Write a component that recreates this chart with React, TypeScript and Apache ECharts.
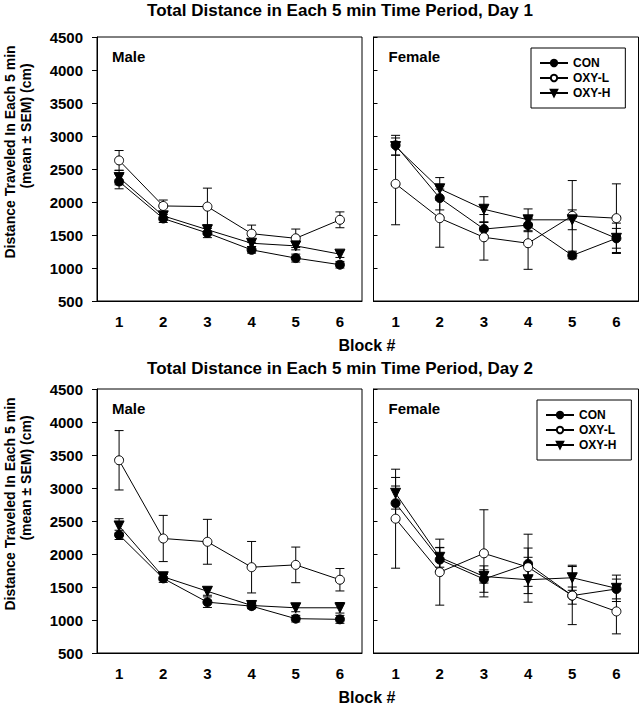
import React, { useEffect, useRef } from "react";
import * as echarts from "echarts";

const blocks = ["1", "2", "3", "4", "5", "6"];
const groups = ["CON", "OXY-L", "OXY-H"];

// Day 1, Male
const d1MaleCON = [2310, 1750, 1530, 1275, 1150, 1050];
const d1MaleCONErr = [110, 60, 70, 50, 60, 50];
const d1MaleOXYL = [2630, 1940, 1930, 1520, 1450, 1730];
const d1MaleOXYLErr = [150, 90, 280, 130, 140, 120];
const d1MaleOXYH = [2370, 1790, 1580, 1375, 1335, 1210];
const d1MaleOXYHErr = [110, 60, 70, 50, 60, 50];

// Day 1, Female
const d1FemaleCON = [2860, 2060, 1590, 1650, 1190, 1450];
const d1FemaleCONErr = [150, 180, 100, 100, 50, 150];
const d1FemaleOXYL = [2275, 1755, 1465, 1375, 1790, 1755];
const d1FemaleOXYLErr = [620, 440, 345, 395, 535, 520];
const d1FemaleOXYH = [2840, 2200, 1890, 1730, 1730, 1450];
const d1FemaleOXYHErr = [130, 170, 190, 165, 150, 230];

// Day 2, Male
const d2MaleCON = [2290, 1630, 1270, 1210, 1020, 1010];
const d2MaleCONErr = [70, 60, 80, 40, 50, 60];
const d2MaleOXYL = [3420, 2235, 2185, 1800, 1835, 1610];
const d2MaleOXYLErr = [450, 350, 340, 390, 270, 170];
const d2MaleOXYH = [2425, 1655, 1435, 1220, 1185, 1185];
const d2MaleOXYHErr = [110, 50, 60, 40, 60, 80];

// Day 2, Female
const d2FemaleCON = [2770, 1915, 1620, 1850, 1370, 1470];
const d2FemaleCONErr = [260, 180, 200, 450, 130, 150];
const d2FemaleOXYL = [2535, 1725, 2010, 1800, 1370, 1130];
const d2FemaleOXYLErr = [750, 500, 660, 290, 440, 340];
const d2FemaleOXYH = [2920, 1950, 1660, 1610, 1640, 1480];
const d2FemaleOXYHErr = [240, 150, 100, 340, 190, 200];

const titles = [
  "Total Distance in Each 5 min Time Period, Day 1",
  "Total Distance in Each 5 min Time Period, Day 2",
];
const panelLabels = ["Male", "Female", "Male", "Female"];
const yLabel1 = "Distance Traveled In Each 5 min";
const yLabel2 = "(mean ± SEM) (cm)";
const xLabel = "Block #";

const panelData = [
  [
    [d1MaleCON, d1MaleCONErr],
    [d1MaleOXYL, d1MaleOXYLErr],
    [d1MaleOXYH, d1MaleOXYHErr],
  ],
  [
    [d1FemaleCON, d1FemaleCONErr],
    [d1FemaleOXYL, d1FemaleOXYLErr],
    [d1FemaleOXYH, d1FemaleOXYHErr],
  ],
  [
    [d2MaleCON, d2MaleCONErr],
    [d2MaleOXYL, d2MaleOXYLErr],
    [d2MaleOXYH, d2MaleOXYHErr],
  ],
  [
    [d2FemaleCON, d2FemaleCONErr],
    [d2FemaleOXYL, d2FemaleOXYLErr],
    [d2FemaleOXYH, d2FemaleOXYHErr],
  ],
];

const FONT = '"Liberation Sans", Arial, Helvetica, sans-serif';

export default function App() {
  const ref = useRef<HTMLDivElement>(null);

  useEffect(() => {
    if (!ref.current) return;
    const chart = echarts.init(ref.current, null, { renderer: "svg" });

    const gridPos = [
      { left: 97, top: 37 },
      { left: 373.5, top: 37 },
      { left: 97, top: 389 },
      { left: 373.5, top: 389 },
    ];
    const grids = gridPos.map((g) => ({
      left: g.left,
      top: g.top,
      width: 265,
      height: 264,
      show: true,
      borderColor: "#000",
      borderWidth: 1,
      backgroundColor: "transparent",
    }));

    const xAxes = gridPos.map((_, i) => ({
      type: "category",
      gridIndex: i,
      data: blocks,
      boundaryGap: true,
      axisLine: { lineStyle: { color: "#000", width: 1 } },
      axisTick: { alignWithLabel: true, length: 5, lineStyle: { color: "#000" } },
      axisLabel: {
        color: "#000",
        fontSize: 15,
        fontWeight: "bold",
        fontFamily: FONT,
        margin: 13,
      },
      splitLine: { show: false },
    }));

    const yAxes = gridPos.map((_, i) => {
      const isMale = i % 2 === 0;
      return {
        type: "value",
        gridIndex: i,
        min: 500,
        max: 4500,
        interval: 500,
        axisLine: { show: true, lineStyle: { color: "#000", width: 1 } },
        axisTick: {
          show: true,
          inside: !isMale,
          length: isMale ? 5 : 4,
          lineStyle: { color: "#000" },
        },
        axisLabel: {
          show: isMale,
          color: "#000",
          fontSize: 15,
          fontWeight: "bold",
          fontFamily: FONT,
          margin: 14,
          formatter: (v: number) => String(v),
        },
        splitLine: { show: false },
      };
    });

    const symbols = [
      { symbol: "circle", symbolSize: 9, symbolRotate: 0, fill: "#000" },
      { symbol: "circle", symbolSize: 9, symbolRotate: 0, fill: "#fff" },
      { symbol: "triangle", symbolSize: 10, symbolRotate: 180, fill: "#000" },
    ];

    const series: any[] = [];
    panelData.forEach((panel, p) => {
      panel.forEach(([means, errs]) => {
        series.push({
          type: "custom",
          xAxisIndex: p,
          yAxisIndex: p,
          silent: true,
          z: 2,
          data: means.map((m, i) => [i, m, errs[i]]),
          encode: { x: 0, y: 1 },
          renderItem: (params: any, api: any) => {
            const x = api.value(0);
            const y = api.value(1);
            const e = api.value(2);
            const top = api.coord([x, y + e]);
            const bot = api.coord([x, y - e]);
            const hw = 4.5;
            const st = { stroke: "#000", lineWidth: 1 };
            return {
              type: "group",
              children: [
                { type: "line", shape: { x1: top[0], y1: top[1], x2: bot[0], y2: bot[1] }, style: st },
                { type: "line", shape: { x1: top[0] - hw, y1: top[1], x2: top[0] + hw, y2: top[1] }, style: st },
                { type: "line", shape: { x1: bot[0] - hw, y1: bot[1], x2: bot[0] + hw, y2: bot[1] }, style: st },
              ],
            };
          },
        });
      });
      panel.forEach(([means], g) => {
        const s = symbols[g];
        series.push({
          type: "line",
          name: groups[g],
          xAxisIndex: p,
          yAxisIndex: p,
          z: 3 + g,
          data: means,
          symbol: s.symbol,
          symbolSize: s.symbolSize,
          symbolRotate: s.symbolRotate,
          showAllSymbol: true,
          lineStyle: { color: "#000", width: 1 },
          itemStyle: { color: s.fill, borderColor: "#000", borderWidth: 1 },
          emphasis: { disabled: true },
        });
      });
    });

    const legendBase = {
      orient: "vertical",
      padding: [9, 15, 9, 8],
      itemGap: 3,
      itemWidth: 28,
      itemHeight: 8,
      borderColor: "#000",
      borderWidth: 1,
      backgroundColor: "#fff",
      selectedMode: false,
      data: groups,
      textStyle: { color: "#000", fontSize: 12, fontWeight: "bold", fontFamily: FONT },
    };

    const textStyle = (size: number) => ({
      fill: "#000",
      fontSize: size,
      fontWeight: "bold",
      fontFamily: FONT,
      align: "center",
      verticalAlign: "middle",
      textAlign: "center",
      textVerticalAlign: "middle",
    });

    const graphics: any[] = [];
    const titleY = [10, 368];
    const panelTop = [37, 389];
    titles.forEach((t, d) => {
      graphics.push({ type: "text", x: 340, y: titleY[d], style: { ...textStyle(17), text: t } });
      graphics.push({
        type: "text",
        x: 9.5,
        y: panelTop[d] + 115,
        rotation: Math.PI / 2,
        style: { ...textStyle(14), text: yLabel1 },
      });
      graphics.push({
        type: "text",
        x: 25.5,
        y: panelTop[d] + 89,
        rotation: Math.PI / 2,
        style: { ...textStyle(14), text: yLabel2 },
      });
      graphics.push({ type: "text", x: 367, y: panelTop[d] + 308, style: { ...textStyle(16), text: xLabel } });
    });
    panelLabels.forEach((lab, i) => {
      const g = gridPos[i];
      graphics.push({
        type: "text",
        x: g.left + 15,
        y: g.top + 19,
        style: { ...textStyle(15), text: lab, align: "left", textAlign: "left" },
      });
    });

    chart.setOption({
      animation: false,
      backgroundColor: "#fff",
      grid: grids,
      xAxis: xAxes,
      yAxis: yAxes,
      series,
      legend: [
        { ...legendBase, left: 531, top: 48 },
        { ...legendBase, left: 537, top: 400 },
      ],
      graphic: graphics,
    });

    return () => chart.dispose();
  }, []);

  return (
    <div
      ref={ref}
      style={{ position: "fixed", left: 0, top: 0, width: 644, height: 706, background: "#fff" }}
    />
  );
}
